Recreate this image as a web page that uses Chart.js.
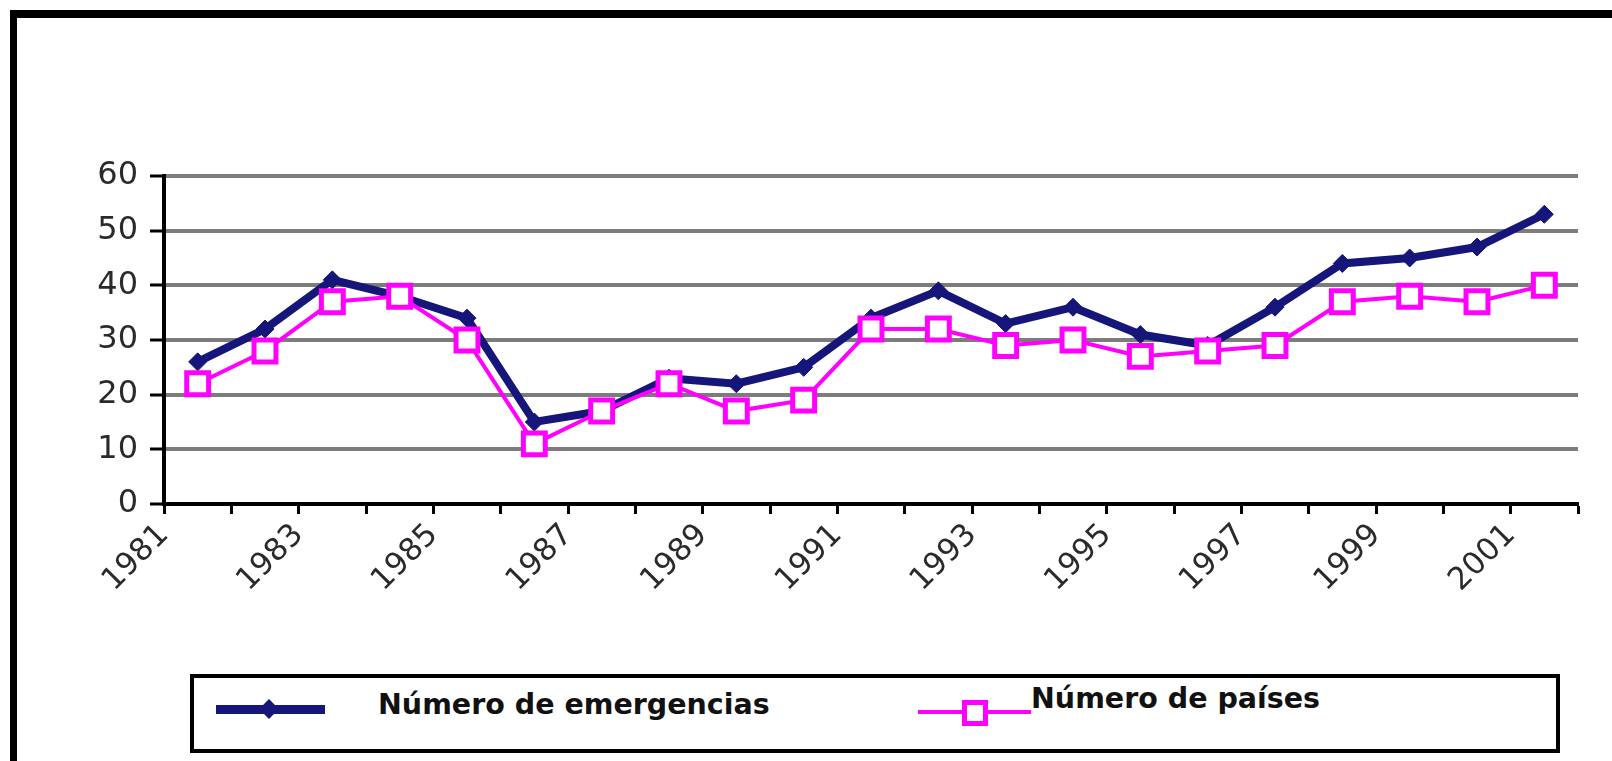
<!DOCTYPE html>
<html>
<head>
<meta charset="utf-8">
<script src="https://cdn.jsdelivr.net/npm/chart.js@4.4.1/dist/chart.umd.min.js"></script>
<style>
  html, body { margin:0; padding:0; background:#fff; width:1612px; height:761px; overflow:hidden; }
  #frame { position:absolute; left:10px; top:10px; width:1700px; height:800px;
           border-top:8px solid #000; border-left:7px solid #000; box-sizing:border-box; }
  #c { position:absolute; left:0; top:0; }
  #legend { position:absolute; left:190px; top:674px; width:1370px; height:79px;
            border:4px solid #000; box-sizing:border-box; background:#fff; }
  .lg-line { position:absolute; }
  .lg-mark { position:absolute; box-sizing:border-box; }
  .lg-text { position:absolute; font-family:"DejaVu Sans", sans-serif; font-weight:bold;
             font-size:28.5px; line-height:34px; color:#111; white-space:nowrap; }
</style>
</head>
<body>
<div id="frame"></div>
<canvas id="c" width="1612" height="761"></canvas>
<div id="legend"></div>
<script>
// ---- data ----
const years = [1981,1982,1983,1984,1985,1986,1987,1988,1989,1990,1991,
               1992,1993,1994,1995,1996,1997,1998,1999,2000,2001];
const emergencias = [26,32,41,38,34,15,17,23,22,25,34,39,33,36,31,29,36,44,45,47,53];
const paises      = [22,28,37,38,30,11,17,22,17,19,32,32,29,30,27,28,29,37,38,37,40];
const yTicks = [0,10,20,30,40,50,60];
const seriesNames = ['Número de emergencias', 'Número de países'];

const NAVY = '#15157a';
const MAGENTA = '#ff00ff';

const chart = new Chart(document.getElementById('c'), {
  type: 'line',
  data: {
    labels: years.map(String),
    datasets: [
      {
        label: seriesNames[0],
        data: emergencias,
        borderColor: NAVY,
        backgroundColor: NAVY,
        borderWidth: 8,
        pointStyle: 'rectRot',
        pointRadius: 9,
        pointBorderWidth: 1,
        pointBackgroundColor: NAVY,
        pointBorderColor: NAVY,
        tension: 0,
        order: 2
      },
      {
        label: seriesNames[1],
        data: paises,
        borderColor: MAGENTA,
        backgroundColor: '#fff',
        borderWidth: 4,
        pointStyle: 'rect',
        pointRadius: 15.5,
        pointBorderWidth: 5,
        pointBackgroundColor: '#fff',
        pointBorderColor: MAGENTA,
        tension: 0,
        order: 1
      }
    ]
  },
  options: {
    responsive: false,
    animation: false,
    devicePixelRatio: 1,
    layout: { padding: { left: 0, right: 34, top: 176, bottom: 0 } },
    plugins: { legend: { display: false }, tooltip: { enabled: false } },
    scales: {
      x: {
        type: 'category',
        offset: true,
        grid: { offset: true, drawOnChartArea: false, drawTicks: true,
                tickLength: 10, tickWidth: 3, tickColor: '#000' },
        border: { display: true, color: '#000', width: 4, z: 1 },
        ticks: {
          autoSkip: false, maxRotation: 45, minRotation: 45,
          labelOffset: -33.67, padding: 3, color: '#2a2a2a',
          font: { family: 'DejaVu Sans', size: 31 },
          callback: function (v, i) { return i % 2 === 0 ? this.getLabelForValue(v) : ''; }
        },
        afterFit: s => { s.height = 257; }
      },
      y: {
        min: 0, max: 60,
        afterBuildTicks: s => { s.ticks = yTicks.map(v => ({ value: v })); },
        ticks: { padding: 12, color: '#2a2a2a', font: { family: 'DejaVu Sans', size: 32 } },
        grid: {
          color: ctx => (ctx.tick && ctx.tick.value === 0) ? 'rgba(0,0,0,0)' : '#7c7c7c',
          lineWidth: 4, drawTicks: true, tickLength: 14, tickColor: '#000', tickWidth: 3
        },
        border: { display: true, color: '#000', width: 4, z: 1 },
        afterFit: s => { s.width = 164; }
      }
    }
  }
});

// ---- HTML legend built from the dataset names ----
const lg = document.getElementById('legend');
const base = { x: 190, y: 674 };
function el(cls, css, text) {
  const d = document.createElement('div');
  d.className = cls;
  Object.assign(d.style, css);
  if (text) d.textContent = text;
  lg.appendChild(d);
  return d;
}
function px(v) { return v + 'px'; }
// item 1
el('lg-line', { left: px(216 - base.x - 4), top: px(709 - 4.5 - base.y - 4), width: '109px', height: '9px', background: NAVY });
el('lg-mark', { left: px(269 - 7 - base.x - 4), top: px(709 - 7 - base.y - 4), width: '14px', height: '14px',
                background: NAVY, transform: 'rotate(45deg)' });
el('lg-text', { left: px(378 - base.x - 4), top: px(705 - 17 - base.y - 4) }, seriesNames[0]);
// item 2
el('lg-line', { left: px(918 - base.x - 4), top: px(712 - 2 - base.y - 4), width: '113px', height: '4px', background: MAGENTA });
el('lg-mark', { left: px(975 - 13 - base.x - 4), top: px(713 - 13 - base.y - 4), width: '26px', height: '26px',
                background: '#fff', border: '5px solid ' + MAGENTA });
el('lg-text', { left: px(1031 - base.x - 4), top: px(699 - 17 - base.y - 4) }, seriesNames[1]);
</script>
</body>
</html>
